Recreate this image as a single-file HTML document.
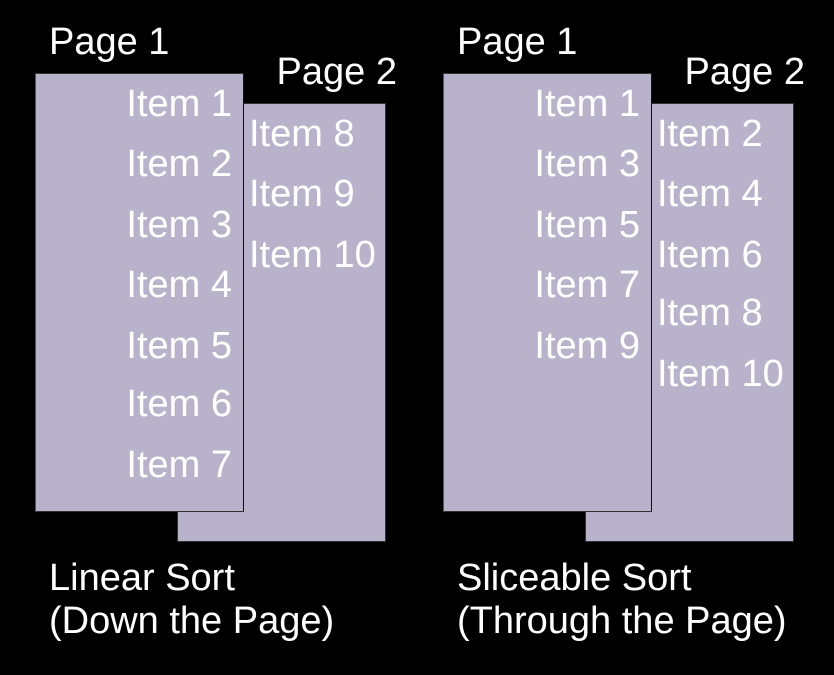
<!DOCTYPE html>
<html><head><style>
body{margin:0;width:834px;height:675px;background:#000;position:relative;overflow:hidden;font-family:"Liberation Sans",sans-serif;color:#fff}
.r{position:absolute;background:#b8b3cb;border:1px solid #555;box-sizing:border-box}
.t{position:absolute;font-size:38px;line-height:40px;white-space:nowrap}
.rt{text-align:right}
</style></head><body>
<div class="r" style="left:177px;top:103px;width:209px;height:439px;border-color:#333"></div>
<div class="r" style="left:35px;top:73px;width:209px;height:439px;border-color:#333 #111 #333 #555"></div>
<div class="r" style="left:585px;top:103px;width:209px;height:439px;border-color:#333"></div>
<div class="r" style="left:443px;top:73px;width:209px;height:439px;border-color:#333 #111 #333 #555"></div>

<div class="t" style="left:49px;top:22px">Page 1</div>
<div class="t rt" style="right:437px;top:52px">Page 2</div>
<div class="t" style="left:457px;top:22px">Page 1</div>
<div class="t rt" style="right:29px;top:52px">Page 2</div>

<div class="t rt" style="right:602px;top:84px">Item 1</div>
<div class="t rt" style="right:602px;top:144px">Item 2</div>
<div class="t rt" style="right:602px;top:205px">Item 3</div>
<div class="t rt" style="right:602px;top:265px">Item 4</div>
<div class="t rt" style="right:602px;top:326px">Item 5</div>
<div class="t rt" style="right:602px;top:384px">Item 6</div>
<div class="t rt" style="right:602px;top:445px">Item 7</div>
<div class="t" style="left:249px;top:114px">Item 8</div>
<div class="t" style="left:249px;top:174px">Item 9</div>
<div class="t" style="left:249px;top:235px">Item 10</div>

<div class="t rt" style="right:194px;top:84px">Item 1</div>
<div class="t rt" style="right:194px;top:144px">Item 3</div>
<div class="t rt" style="right:194px;top:205px">Item 5</div>
<div class="t rt" style="right:194px;top:265px">Item 7</div>
<div class="t rt" style="right:194px;top:326px">Item 9</div>
<div class="t" style="left:657px;top:114px">Item 2</div>
<div class="t" style="left:657px;top:174px">Item 4</div>
<div class="t" style="left:657px;top:235px">Item 6</div>
<div class="t" style="left:657px;top:293px">Item 8</div>
<div class="t" style="left:657px;top:354px">Item 10</div>

<div class="t" style="left:49px;top:558px">Linear Sort</div>
<div class="t" style="left:49px;top:601px">(Down the Page)</div>
<div class="t" style="left:457px;top:558px">Sliceable Sort</div>
<div class="t" style="left:457px;top:601px">(Through the Page)</div>
</body></html>
